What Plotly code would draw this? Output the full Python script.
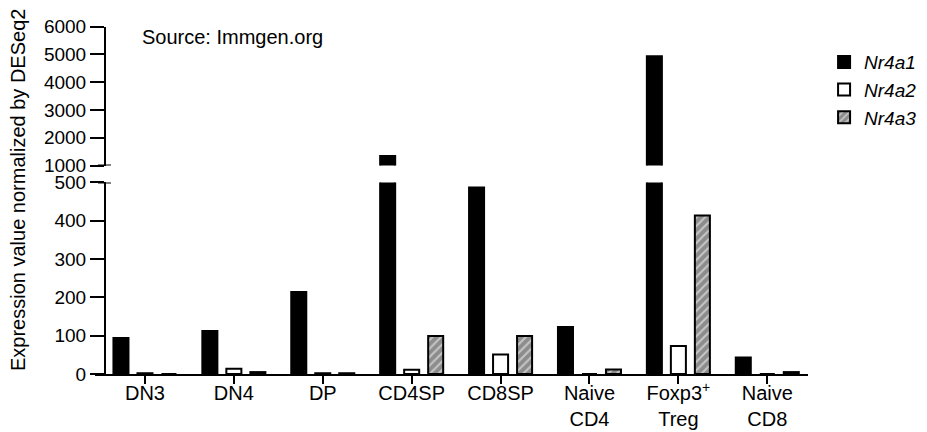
import plotly.graph_objects as go

categories = ["DN3", "DN4", "DP", "CD4SP", "CD8SP", "Naive<br>CD4", "Foxp3<sup>+</sup><br>Treg", "Naive<br>CD8"]
nr4a1 = [94, 112, 214, 1345, 487, 123, 4940, 43]
nr4a2 = [2, 14, 2, 11, 51, 0, 73, 0]
nr4a3 = [0, 5, 2, 99, 99, 12, 414, 5]

series_names = ["<i>Nr4a1</i>", "<i>Nr4a2</i>", "<i>Nr4a3</i>"]
series_values = [nr4a1, nr4a2, nr4a3]

lower_ticks = [0, 100, 200, 300, 400, 500]
upper_ticks = [1000, 2000, 3000, 4000, 5000, 6000]

FONT = "Liberation Sans, Arial, sans-serif"
FS = 20
TFS = 19

styles = [
    dict(color="black", line=dict(color="black", width=2)),
    dict(color="white", line=dict(color="black", width=2)),
    dict(color="#8c8c8c", line=dict(color="black", width=2),
         pattern=dict(shape="/", fgcolor="white", fillmode="overlay", size=6, solidity=0.35)),
]

fig = go.Figure()
for name, vals, st in zip(series_names, series_values, styles):
    fig.add_trace(go.Bar(x=categories, y=vals, name=name, marker=st,
                         xaxis="x", yaxis="y", legendgroup=name, showlegend=True))
for name, vals, st in zip(series_names, series_values, styles):
    fig.add_trace(go.Bar(x=categories, y=vals, name=name, marker=st,
                         xaxis="x", yaxis="y2", legendgroup=name, showlegend=False))

ax_pos = 10 / 713

# the page body adds an 8px margin; the figure is sized to fit the 927x432 window
fig.update_layout(
    width=919, height=424,
    margin=dict(l=87, r=119, t=18, b=58, autoexpand=False),
    paper_bgcolor="white", plot_bgcolor="white",
    font=dict(family=FONT, size=FS, color="black"),
    barmode="group", bargap=0.19, bargroupgap=0.374,
    xaxis=dict(
        domain=[0, 1], range=[-0.562, 7.458], anchor="y", automargin=False,
        showline=True, linewidth=2, linecolor="black",
        ticks="outside", ticklen=8, tickwidth=2, tickcolor="black",
        ticklabelstandoff=-8,
        showgrid=False, zeroline=False,
        tickfont=dict(size=FS),
    ),
    yaxis=dict(
        domain=[0, 0.5503], range=[0, 500], anchor="free", position=ax_pos,
        automargin=False,
        showline=True, linewidth=2, linecolor="black",
        ticks="outside", ticklen=14, tickwidth=2, tickcolor="black",
        tickvals=lower_ticks, showgrid=False, zeroline=False,
        tickfont=dict(size=TFS),
    ),
    yaxis2=dict(
        domain=[0.5991, 0.998], range=[1000, 6000], anchor="free", position=ax_pos,
        automargin=False,
        showline=True, linewidth=2, linecolor="black",
        ticks="outside", ticklen=14, tickwidth=2, tickcolor="black",
        tickvals=upper_ticks, showgrid=False, zeroline=False,
        tickfont=dict(size=TFS),
    ),
    legend=dict(
        xref="container", x=0.888, xanchor="left", y=0.951, yanchor="top",
        font=dict(size=19), bgcolor="rgba(0,0,0,0)",
        tracegroupgap=0, itemwidth=30,
    ),
    showlegend=True,
)

# axis-break caps
for yref, yv in (("y2", 1000), ("y", 500)):
    fig.add_shape(type="line", xref="paper", xsizemode="pixel", xanchor=ax_pos,
                  x0=-7, x1=6, yref=yref, y0=yv, y1=yv,
                  line=dict(color="black", width=2))

fig.add_annotation(
    text="Expression value normalized by DESeq2", textangle=-90,
    xref="paper", yref="paper", x=(18 - 95) / 713, y=(374 - 190) / 348,
    xanchor="center", yanchor="middle", showarrow=False,
    font=dict(size=FS),
)
fig.add_annotation(
    text="Source: Immgen.org",
    xref="paper", yref="paper", x=(140 - 95) / 713, y=(374 - 37) / 348,
    xanchor="left", yanchor="middle", showarrow=False,
    font=dict(size=FS),
)

fig.write_html("out.html")
